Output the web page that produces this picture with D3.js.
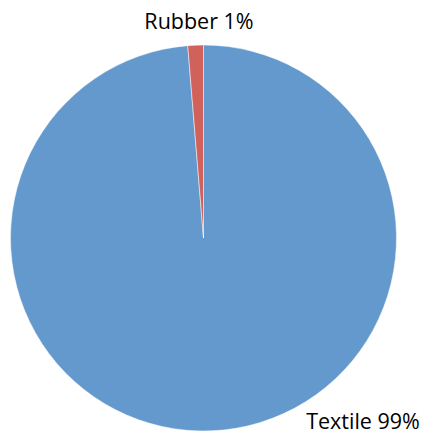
<!DOCTYPE html>
<html><head><meta charset="utf-8">
<script src="https://cdn.jsdelivr.net/npm/d3@7"></script>
<style>body{margin:0;background:#fff}svg{display:block}</style>
</head><body>
<svg id="c" width="424" height="434"></svg>
<script>
const categories = ["Textile", "Rubber"];
const values = [98.7, 1.3];
const labels = ["Textile 99%", "Rubber 1%"];
const colors = ["#6399CD", "#D0615B"];

const svg = d3.select("#c");
const cx = 203.5, cy = 238, r = 193;
const pie = d3.pie().sort(null).value(d => d)(values);
const arc = d3.arc().innerRadius(0).outerRadius(r);
const g = svg.append("g").attr("transform", `translate(${cx},${cy})`);
g.selectAll("path").data(pie).join("path")
  .attr("d", arc)
  .attr("fill", (d, i) => colors[i])
  .attr("stroke", "#ffffff").attr("stroke-width", 0.5);

const labelPos = [[363, 429], [199, 29]];
svg.selectAll("text.lbl").data(labels).join("text")
  .attr("class", "lbl")
  .attr("x", (d, i) => labelPos[i][0])
  .attr("y", (d, i) => labelPos[i][1])
  .attr("text-anchor", "middle")
  .attr("font-family", "Open Sans, sans-serif")
  .attr("font-size", 21.5)
  .attr("fill", "#000")
  .text(d => d);
</script>
</body></html>
